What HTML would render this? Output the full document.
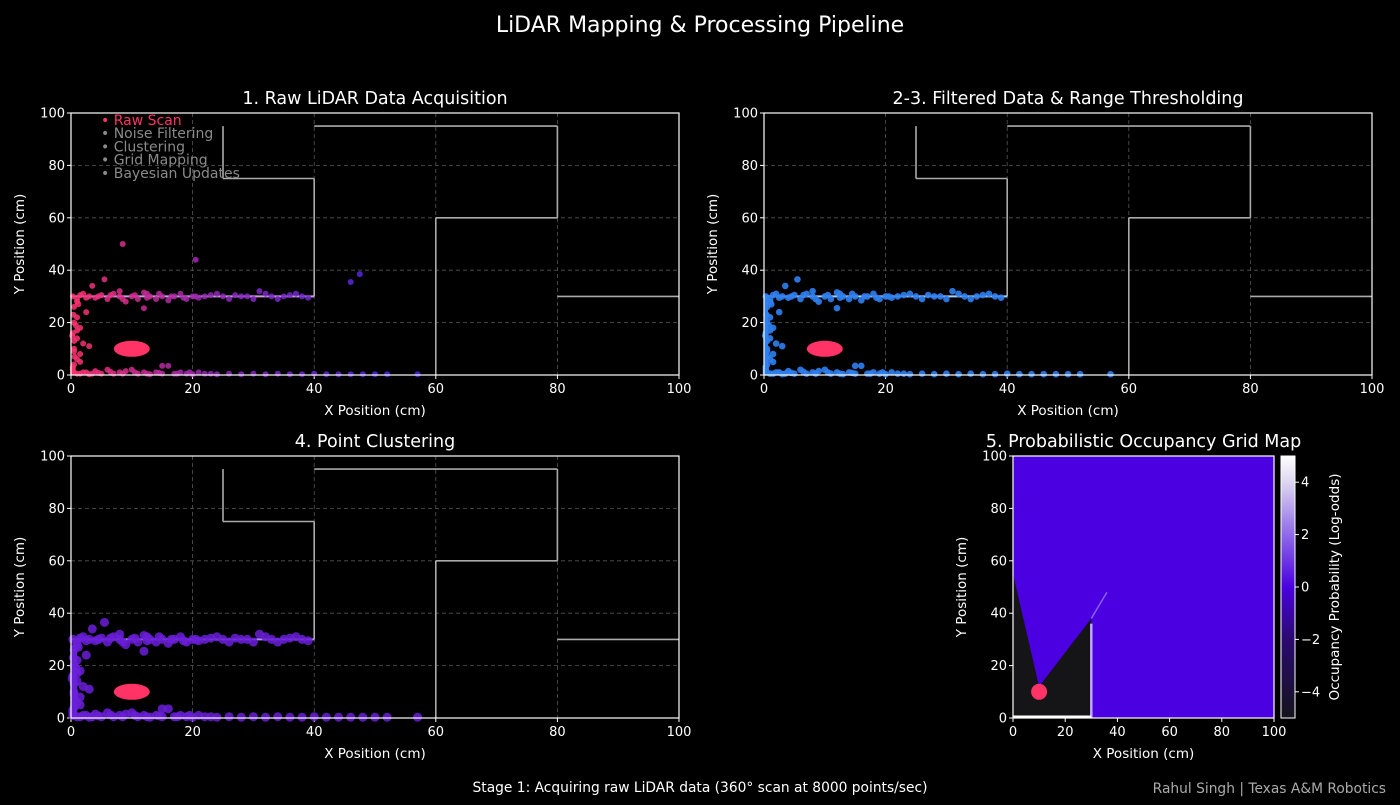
<!DOCTYPE html>
<html><head><meta charset="utf-8"><style>
body{margin:0;background:#000;}
svg text{font-family:"DejaVu Sans","Liberation Sans",sans-serif;fill:#fff;}
</style></head><body>
<svg id="s" width="1400" height="800" xmlns="http://www.w3.org/2000/svg">
<defs>
<linearGradient id="cb" x1="0" y1="1" x2="0" y2="0">
<stop offset="0" stop-color="#14141c"/><stop offset="0.3" stop-color="#2a0a70"/><stop offset="0.5" stop-color="#4b00e0"/><stop offset="0.7" stop-color="#8f6ae8"/><stop offset="0.9" stop-color="#ddd6f0"/><stop offset="1" stop-color="#ffffff"/>
</linearGradient>
</defs>
<rect width="1400" height="800" fill="#000"/>
<text x="700" y="32" font-size="22" text-anchor="middle">LiDAR Mapping &amp; Processing Pipeline</text>
<text x="700" y="792" font-size="13.8" text-anchor="middle">Stage 1: Acquiring raw LiDAR data (360° scan at 8000 points/sec)</text>
<text x="1386" y="793" font-size="13.8" text-anchor="end" style="fill:#aaa">Rahul Singh | Texas A&amp;M Robotics</text>
<g id="g"></g>
</svg>
<script>
// Data arrays
const xTicks=[0,20,40,60,80,100];
const yTicks=[0,20,40,60,80,100];
const walls=[[25,95,25,75],[25,75,40,75],[40,75,40,30],[40,95,80,95],[80,95,80,60],[60,60,80,60],[60,60,60,0],[80,30,100,30]];
const wallX=[0.3,1,2,3,4,5,6,7,8,9,10,11,12,13,14,15,16,17,18,19,20,21,22,24,25,26,27,28,30,31,32,33,34,35,36,37,38,39,1.5,2.5,4.5,6.5,8.5,10.5,12.5,14.5,16.5,18.5,20.5,23,29];
const wallY=[30,29,31,30,29.5,30.5,29,31,30,28,30,29,31.5,30,29,30,28.5,30,31,29,30,29.5,30,31,30,29,30.5,30,29,32,31,30,29,30,30.5,31,30,29.5,30.5,29.5,30,30.5,29,30.5,29.5,31,30,29.5,30,30.5,30];
const botX=[0.5,1,2,3,4,5,6,7,8,9,10,11,12,13,14,15,16,17,18,19,20,21,22,24,26,28,30,32,34,36,38,40,42,44,46,48,50,52,57,1.5,2.5,3.5,4.5,6.5,8.5,10.5,12.5,14.5,17.5,19.5,23];
const botY=[1,0.5,1,0.3,1.5,0.5,2,0.5,1,1.5,2,0.5,1,0.3,1,0.5,3.5,0.5,1,0.5,0.3,1,0.5,0.3,0.5,0.3,0.5,0.3,0.5,0.3,0.3,0.5,0.3,0.3,0.3,0.3,0.3,0.3,0.3,0.5,1,0.5,0.8,1.2,0.5,1,0.5,0.8,0.5,1,0.5];
const leftX=[0.3,0.5,1,1.5,0.5,2,1,0.3,1.5,0.5,1,2.5,0.5,1,0.3,1.5,0.5,3,0.5,1,0.3,0.6,0.2,0.8,0.4,1.2];
const leftY=[2,4,6,8,10,12,14,16,18,20,22,24,26,28,3,5,9,11,13,17,1,7,15,19,23,27];
const outX=[8.5,20.5,5.5,3.5,12,46,47.5,8,12.5,15];
const outY=[50,44,36.5,34,25.5,35.5,38.5,32,31,3.5];
const robotX=10, robotY=10;
const cbTicks=[-4,-2,0,2,4];

const NS="http://www.w3.org/2000/svg";
const G=document.getElementById('g');
function el(t,a,p){const e=document.createElementNS(NS,t);for(const k in a)e.setAttribute(k,a[k]);(p||G).appendChild(e);return e;}
function panel(name,L,T,W,H,title){
  const sx=v=>L+v/100*W, sy=v=>T+H-v/100*H;
  const g=el('g',{});
  
  
  el('rect',{x:L,y:T,width:W,height:H,fill:'#000'},g);
  xTicks.forEach(v=>{
    if(v>0&&v<100){const l=el('line',{x1:sx(v),x2:sx(v),y1:T,y2:T+H,stroke:'#555','stroke-dasharray':'4,3','stroke-width':0.8},g);}
    el('line',{x1:sx(v),x2:sx(v),y1:T+H,y2:T+H+4,stroke:'#fff'},g);
    const t=el('text',{x:sx(v),y:T+H+18,'font-size':13,'text-anchor':'middle'},g);t.textContent=v;
    
  });
  yTicks.forEach(v=>{
    if(v>0&&v<100){const l=el('line',{y1:sy(v),y2:sy(v),x1:L,x2:L+W,stroke:'#555','stroke-dasharray':'4,3','stroke-width':0.8},g);}
    el('line',{y1:sy(v),y2:sy(v),x1:L-4,x2:L,stroke:'#fff'},g);
    const t=el('text',{x:L-6,y:sy(v)+4.5,'font-size':13,'text-anchor':'end'},g);t.textContent=v;
    
  });
  const tt=el('text',{x:L+W/2,y:T-9,'font-size':17.5,'text-anchor':'middle'},g);tt.textContent=title;
  
  const xl=el('text',{x:L+W/2,y:T+H+40,'font-size':13.5,'text-anchor':'middle'},g);xl.textContent='X Position (cm)';
  
  const yl=el('text',{x:0,y:0,'font-size':13.5,'text-anchor':'middle',transform:`translate(${L-47},${T+H/2}) rotate(-90)`},g);yl.textContent='Y Position (cm)';
  
  return {g,sx,sy};
}
function drawWalls(p){
  walls.forEach(w=>{const l=el('line',{x1:p.sx(w[0]),y1:p.sy(w[1]),x2:p.sx(w[2]),y2:p.sy(w[3]),stroke:'#aaa','stroke-width':1.6},p.g);
    });
}
function allPts(){const a=[];wallX.forEach((x,i)=>a.push([x,wallY[i]]));botX.forEach((x,i)=>a.push([x,botY[i]]));leftX.forEach((x,i)=>a.push([x,leftY[i]]));outX.forEach((x,i)=>a.push([x,outY[i]]));return a;}
function grad(x){const t=Math.min(1,x/55);const c1=[255,50,110],c2=[150,40,180],c3=[70,40,230];
  const a=t<0.4?c1:c2,b=t<0.4?c2:c3,u=t<0.4?t/0.4:(t-0.4)/0.6;
  return `rgb(${a.map((v,i)=>Math.round(v+(b[i]-v)*u)).join(',')})`;}
function frame(p,L,T,W,H){el('rect',{x:L,y:T,width:W,height:H,fill:'none',stroke:'#fff','stroke-width':1.2},p.g);}
function robot(p,rx,ry){const e=el('ellipse',{cx:p.sx(robotX),cy:p.sy(robotY),rx:rx,ry:ry,fill:'#ff3366'},p.g);}
const filt=q=>q[1]<40&&!(q[0]>44&&q[1]>30);

// Panel 1
let p=panel('raw-scan-panel',71,113,608,262,'1. Raw LiDAR Data Acquisition');
drawWalls(p);
el('line',{x1:p.sx(0),y1:p.sy(30),x2:p.sx(40),y2:p.sy(30),stroke:'#c8a0e0','stroke-width':2},p.g);
allPts().forEach(q=>{const c=el('circle',{cx:p.sx(q[0]),cy:p.sy(q[1]),r:3,fill:grad(q[0]),opacity:0.85},p.g);});
robot(p,18,8);
frame(p,71,113,608,262);
['Raw Scan','Noise Filtering','Clustering','Grid Mapping','Bayesian Updates'].forEach((s,i)=>{
  const t=el('text',{x:101,y:125+i*13.2,'font-size':14},p.g);t.textContent='• '+s;t.style.fill=i==0?'#ff3366':'#8a8a8a';
  });

// Panel 2
p=panel('filtered-panel',764,113,608,262,'2-3. Filtered Data & Range Thresholding');
drawWalls(p);
el('line',{x1:p.sx(0),y1:p.sy(30),x2:p.sx(40),y2:p.sy(30),stroke:'#aad0ff','stroke-width':2},p.g);
allPts().filter(filt).forEach(q=>{const c=el('circle',{cx:p.sx(q[0]),cy:p.sy(q[1]),r:3.3,fill:'#2f80f0',opacity:0.9},p.g);});
el('rect',{x:p.sx(0),y:p.sy(30),width:4,height:p.sy(0)-p.sy(30),fill:'#2f80f0'},p.g);
robot(p,18,8);
frame(p,764,113,608,262);

// Panel 3
p=panel('cluster-panel',71,456,608,262,'4. Point Clustering');
drawWalls(p);
el('line',{x1:p.sx(0),y1:p.sy(30),x2:p.sx(40),y2:p.sy(30),stroke:'#b090f0','stroke-width':2},p.g);
allPts().filter(filt).forEach(q=>{const c=el('circle',{cx:p.sx(q[0]),cy:p.sy(q[1]),r:4.5,fill:'#6a1fd8',opacity:0.85},p.g);});
el('rect',{x:p.sx(0),y:p.sy(28),width:6,height:p.sy(0)-p.sy(28),fill:'#6a1fd8'},p.g);
robot(p,18,8);
frame(p,71,456,608,262);

// Panel 4 - occupancy grid
const L4=1013,T4=456,W4=261,H4=262;
p=panel('occupancy-grid-panel',L4,T4,W4,H4,'5. Probabilistic Occupancy Grid Map');
el('rect',{x:L4,y:T4,width:W4,height:H4,fill:'#4a00e0'},p.g);
const freePoly=[[0,0],[0,55],[10,12],[30,38],[30,0]];
const fp=el('polygon',{points:freePoly.map(q=>p.sx(q[0])+','+p.sy(q[1])).join(' '),fill:'#151518'},p.g);

el('line',{x1:p.sx(30),y1:p.sy(36),x2:p.sx(30),y2:p.sy(0),stroke:'#c0a8ff','stroke-width':2.5},p.g);
el('line',{x1:p.sx(0),y1:p.sy(0.5),x2:p.sx(30),y2:p.sy(0.5),stroke:'#fff','stroke-width':2.5},p.g);
el('line',{x1:p.sx(30),y1:p.sy(38),x2:p.sx(36),y2:p.sy(48),stroke:'#8a60f0','stroke-width':1.5},p.g);
robot(p,8,8);
frame(p,L4,T4,W4,H4);
// colorbar
const cbL=1281,cbT=456,cbH=262,cbW=14;
const cbg=el('g',{});
el('rect',{x:cbL,y:cbT,width:cbW,height:cbH,fill:'url(#cb)',stroke:'#fff','stroke-width':1},cbg);
const cy=v=>cbT+cbH/2-v/10*cbH;
cbTicks.forEach(v=>{el('line',{x1:cbL+cbW,x2:cbL+cbW+4,y1:cy(v),y2:cy(v),stroke:'#fff'},cbg);
  const t=el('text',{x:cbL+cbW+6,y:cy(v)+4.5,'font-size':13},cbg);t.textContent=v<0?'\u2212'+(-v):v;
  });
const ct=el('text',{x:0,y:0,'font-size':13.5,'text-anchor':'middle',transform:`translate(1339,${cbT+cbH/2}) rotate(-90)`},cbg);ct.textContent='Occupancy Probability (Log-odds)';

</script>
</body></html>
